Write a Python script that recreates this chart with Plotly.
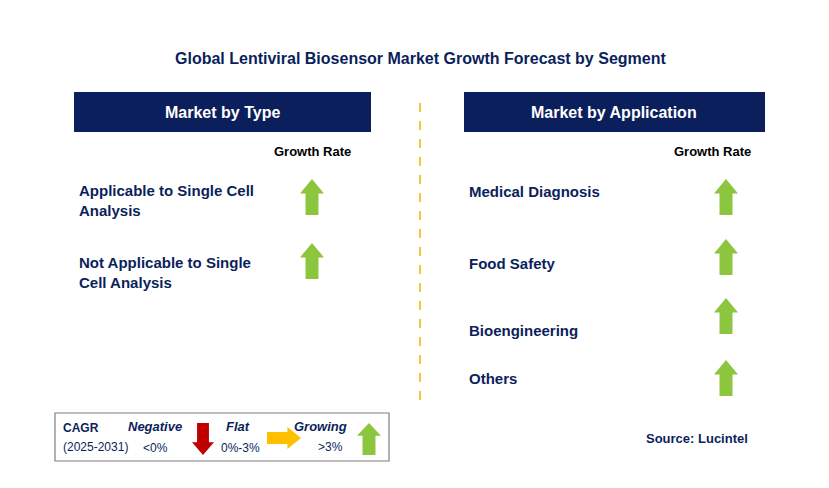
import plotly.graph_objects as go

title = "Global Lentiviral Biosensor Market Growth Forecast by Segment"
type_labels = ["Applicable to Single Cell<br>Analysis", "Not Applicable to Single<br>Cell Analysis"]
type_growth = ["growing", "growing"]
app_labels = ["Medical Diagnosis", "Food Safety", "Bioengineering", "Others"]
app_growth = ["growing", "growing", "growing", "growing"]
type_y = [200, 272]
app_y = [191, 263, 330, 378]
type_arrow_y = [197, 261]
app_arrow_y = [197, 257, 316, 378]

NAVY = "#0b1f5c"
GREEN = "#8cc63f"
RED = "#c00000"
YELLOW = "#ffc000"
W, H = 829, 488
OFF = 8  # page offset of the plot


def up_arrow(cx, cy, w=24, h=36, color=GREEN):
    hw, sw = w / 2, w * 0.27
    top, bot, neck = cy - h / 2, cy + h / 2, cy - h / 2 + h * 0.4
    p = (f"M{cx},{top} L{cx+hw},{neck} L{cx+sw},{neck} L{cx+sw},{bot} "
         f"L{cx-sw},{bot} L{cx-sw},{neck} L{cx-hw},{neck} Z")
    return dict(type="path", path=p, fillcolor=color, line=dict(width=0), xref="x", yref="y")


def down_arrow(cx, cy, w=22, h=32, color=RED):
    hw, sw = w / 2, w * 0.27
    top, bot, neck = cy - h / 2, cy + h / 2, cy + h / 2 - h * 0.4
    p = (f"M{cx},{bot} L{cx+hw},{neck} L{cx+sw},{neck} L{cx+sw},{top} "
         f"L{cx-sw},{top} L{cx-sw},{neck} L{cx-hw},{neck} Z")
    return dict(type="path", path=p, fillcolor=color, line=dict(width=0), xref="x", yref="y")


def right_arrow(cx, cy, w=34, h=22, color=YELLOW):
    hh, sh = h / 2, h * 0.27
    l, r, neck = cx - w / 2, cx + w / 2, cx + w / 2 - w * 0.4
    p = (f"M{r},{cy} L{neck},{cy-hh} L{neck},{cy-sh} L{l},{cy-sh} "
         f"L{l},{cy+sh} L{neck},{cy+sh} L{neck},{cy+hh} Z")
    return dict(type="path", path=p, fillcolor=color, line=dict(width=0), xref="x", yref="y")


shapes = [
    dict(type="rect", x0=74, x1=371, y0=92, y1=132, fillcolor=NAVY, line=dict(width=0)),
    dict(type="rect", x0=464, x1=765, y0=92, y1=132, fillcolor=NAVY, line=dict(width=0)),
    dict(type="line", x0=420, x1=420, y0=103, y1=408, line=dict(color="#f5b400", width=1.5, dash="dash")),
    dict(type="rect", x0=55, x1=389, y0=413, y1=461, fillcolor="white", line=dict(color="#7f7f7f", width=1.2)),
    down_arrow(203, 439),
    right_arrow(284, 438),
    up_arrow(369, 439, w=24, h=32),
]
for y, g in zip(type_arrow_y, type_growth):
    shapes.append(up_arrow(312, y))
for y, g in zip(app_arrow_y, app_growth):
    shapes.append(up_arrow(726, y))

F = "Arial"
ann = [
    dict(x=420, y=58, text=f"<b>{title}</b>", font=dict(size=16, color=NAVY)),
    dict(x=222, y=112, text="<b>Market by Type</b>", font=dict(size=16, color="white")),
    dict(x=614, y=112, text="<b>Market by Application</b>", font=dict(size=16, color="white")),
    dict(x=312, y=151, text="<b>Growth Rate</b>", font=dict(size=13, color="black")),
    dict(x=712, y=151, text="<b>Growth Rate</b>", font=dict(size=13, color="black")),
    dict(x=750, y=438, text="<b>Source: Lucintel</b>", font=dict(size=13, color=NAVY), xanchor="right"),
    dict(x=61, y=428, text="<b>CAGR</b>", font=dict(size=12, color=NAVY), xanchor="left"),
    dict(x=61, y=447, text="(2025-2031)", font=dict(size=12, color=NAVY), xanchor="left"),
    dict(x=155, y=426, text="<b><i>Negative</i></b>", font=dict(size=13, color=NAVY)),
    dict(x=155, y=448, text="<0%", font=dict(size=12, color=NAVY)),
    dict(x=238, y=426, text="<b><i>Flat</i></b>", font=dict(size=13, color=NAVY)),
    dict(x=240, y=448, text="0%-3%", font=dict(size=12, color=NAVY)),
    dict(x=320, y=426, text="<b><i>Growing</i></b>", font=dict(size=13, color=NAVY)),
    dict(x=330, y=447, text=">3%", font=dict(size=12, color=NAVY)),
]
for lbl, y in zip(type_labels, type_y):
    ann.append(dict(x=77, y=y, text=f"<b>{lbl}</b>", xanchor="left", align="left",
                    font=dict(size=15, color=NAVY)))
for lbl, y in zip(app_labels, app_y):
    ann.append(dict(x=467, y=y, text=f"<b>{lbl}</b>", xanchor="left", align="left",
                    font=dict(size=15, color=NAVY)))
for a in ann:
    a.setdefault("xanchor", "center")
    a.update(xref="x", yref="y", showarrow=False, yanchor="middle")
    a["font"]["family"] = F

fig = go.Figure()
fig.update_layout(
    width=W, height=H, margin=dict(l=0, r=0, t=0, b=0),
    plot_bgcolor="white", paper_bgcolor="white",
    xaxis=dict(range=[OFF, W + OFF], visible=False, fixedrange=True),
    yaxis=dict(range=[H + OFF, OFF], visible=False, fixedrange=True),
    shapes=shapes, annotations=ann, showlegend=False,
)
fig.write_html("out.html")
